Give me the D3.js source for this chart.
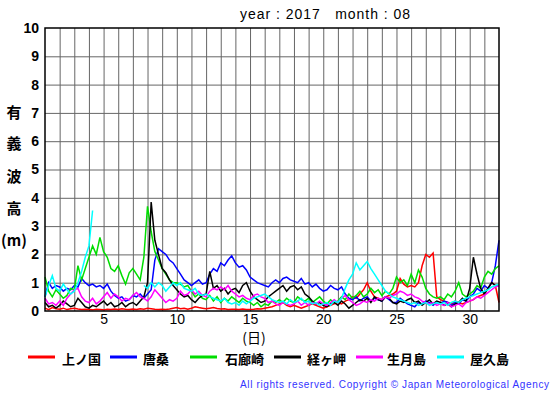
<!DOCTYPE html>
<html>
<head>
<meta charset="utf-8">
<script src="https://cdn.jsdelivr.net/npm/d3@7"></script>
<style>
  body { margin: 0; background: #fff; }
  text { font-family: "Liberation Sans", Arial, sans-serif; }
  .cjk { font-family: "Noto Sans CJK JP", sans-serif; }
</style>
</head>
<body>
<div id="chart"></div>
<script>
// 有義波高, 2017/08, sampled every 6 hours (day 1 00h .. day 32 00h)
const startDay = 1
const stepDays = 0.25

const stations = ['上ノ国', '唐桑', '石廊崎', '経ヶ岬', '生月島', '屋久島']
const stationColors = ['#ff0000', '#0000ff', '#00dd00', '#000000', '#ff00ff', '#00ffff']

const kaminokuni = [
  0.1,0.05,0.12,0.08, 0.06,0.1,0.05,0.08, 0.1,0.07,0.05,0.06, 0.05,0.04,0.06,0.05,
  0.04,0.06,0.05,0.07, 0.05,0.08,0.06,0.05, 0.07,0.05,0.08,0.06, 0.1,0.08,0.06,0.05,
  0.06,0.05,0.07,0.1, 0.12,0.08,0.1,0.06, 0.1,0.15,0.12,0.1, 0.08,0.1,0.12,0.09,
  0.07,0.08,0.05,0.06, 0.06,0.05,0.07,0.05, 0.05,0.06,0.08,0.07, 0.1,0.12,0.15,0.2,
  0.25,0.3,0.2,0.15, 0.2,0.15,0.1,0.15, 0.2,0.25,0.2,0.15, 0.1,0.15,0.2,0.25,
  0.3,0.25,0.35,0.4, 0.5,0.45,0.6,0.75, 1.0,0.7,0.5,0.45, 0.4,0.5,0.55,0.6,
  0.7,1.15,0.95,0.85, 0.9,0.85,1.0,1.6, 2.0,1.9,2.05,0.5, 0.4,0.35,0.3,0.25,
  0.35,0.3,0.25,0.3, 0.35,0.4,0.5,0.55, 0.6,0.8,1.0,0.9, 0.3
]
const karakuwa = [
  0.5,1.0,0.8,0.9, 0.85,0.7,0.8,0.75, 0.9,0.85,1.15,1.0, 0.9,0.95,0.85,0.9,
  0.8,0.95,0.7,0.55, 0.45,0.5,0.35,0.4, 0.55,0.5,0.6,0.45, 0.6,0.75,1.8,2.2,
  2.1,2.0,1.8,1.7, 1.5,1.3,1.1,1.0, 0.9,1.0,1.1,0.95, 1.0,1.3,1.5,1.4,
  1.7,1.6,1.8,1.95, 1.7,1.55,1.6,1.45, 1.2,1.1,1.0,0.95, 0.9,0.85,1.0,1.1,
  1.0,1.15,1.2,1.1, 1.05,1.0,1.15,0.95, 1.0,0.85,0.95,0.8, 0.7,0.75,0.9,0.8,
  0.75,0.85,0.6,0.45, 0.4,0.5,0.35,0.45, 0.5,0.35,0.45,0.4, 0.35,0.5,0.4,0.3,
  0.3,0.45,0.35,0.25, 0.2,0.15,0.3,0.25, 0.35,0.3,0.2,0.3, 0.25,0.35,0.3,0.2,
  0.3,0.25,0.4,0.35, 0.5,0.6,0.8,0.7, 0.9,0.8,1.0,1.6, 2.5
]
const irozaki = [
  1.2,0.7,0.5,0.75, 0.6,0.45,0.55,0.8, 0.75,1.6,1.1,1.5, 1.9,2.3,2.0,2.6,
  2.1,1.9,1.5,1.4, 1.6,1.25,0.95,1.35, 1.5,1.3,1.1,1.9, 3.7,2.8,2.1,1.8,
  1.5,1.3,1.1,1.0, 1.0,0.95,0.85,0.9, 0.7,0.5,0.6,0.45, 0.4,0.55,0.35,0.5,
  0.3,0.45,0.35,0.5, 0.4,0.3,0.45,0.35, 0.3,0.2,0.3,0.15, 0.25,0.2,0.35,0.3,
  0.4,0.3,0.45,0.35, 0.3,0.5,0.4,0.35, 0.45,0.3,0.4,0.5, 0.35,0.25,0.4,0.3,
  0.35,0.5,0.4,0.6, 0.45,0.55,0.7,0.5, 0.6,0.8,0.65,0.75, 0.55,0.7,0.6,0.8,
  1.2,1.0,1.1,0.9, 1.3,1.0,1.45,1.2, 0.8,0.6,0.5,0.45, 0.5,0.4,0.6,0.5,
  0.7,1.0,0.6,0.5, 0.6,0.7,0.9,0.8, 1.2,1.4,1.3,1.5, 1.6
]
const kyogamisaki = [
  0.3,0.15,0.2,0.1, 0.2,0.35,0.25,0.15, 0.2,0.45,0.3,0.15, 0.1,0.2,0.15,0.25,
  0.35,0.2,0.3,0.15, 0.2,0.3,0.15,0.25, 0.3,0.2,0.35,0.5, 1.0,3.85,2.5,2.0,
  1.5,1.35,1.1,0.9, 0.75,0.6,0.5,0.55, 0.4,0.3,0.45,0.55, 0.6,1.4,0.8,0.9,
  0.7,0.8,0.6,0.75, 0.8,0.65,0.9,1.0, 0.7,0.5,0.4,0.3, 0.35,0.5,0.6,0.7,
  0.8,0.9,0.7,0.85, 0.9,0.75,0.85,0.6, 0.5,0.35,0.25,0.3, 0.2,0.15,0.25,0.3,
  0.2,0.35,0.25,0.1, 0.2,0.3,0.4,0.35, 0.45,0.3,0.5,0.4, 0.35,0.5,0.45,0.3,
  0.25,0.35,0.3,0.4, 0.45,0.3,0.35,0.2, 0.3,0.4,0.25,0.35, 0.3,0.2,0.25,0.15,
  0.25,0.3,0.45,0.35, 0.8,1.9,1.3,0.8, 0.6,0.8,1.0,0.9, 0.9
]
const ikitsukishima = [
  0.45,0.25,0.3,0.2, 0.35,0.2,0.45,0.6, 0.75,0.8,0.5,0.35, 0.3,0.45,0.25,0.35,
  0.5,0.65,0.45,0.6, 0.5,0.35,0.45,0.4, 0.55,0.65,0.5,0.45, 0.35,0.5,0.75,0.6,
  0.45,0.3,0.4,0.35, 0.45,0.7,0.55,0.6, 0.75,0.6,0.7,0.55, 0.5,0.7,0.8,0.75,
  0.85,0.75,0.9,0.7, 0.6,0.5,0.55,0.45, 0.4,0.55,0.6,0.5, 0.45,0.3,0.35,0.25,
  0.2,0.3,0.25,0.2, 0.25,0.35,0.2,0.3, 0.2,0.3,0.25,0.35, 0.25,0.2,0.3,0.4,
  0.3,0.45,0.55,0.4, 0.3,0.2,0.25,0.35, 0.3,0.4,0.35,0.45, 0.4,0.5,0.45,0.55,
  0.6,0.7,0.65,0.55, 0.6,0.5,0.45,0.35, 0.3,0.25,0.3,0.2, 0.25,0.2,0.3,0.15,
  0.2,0.25,0.15,0.3, 0.35,0.4,0.5,0.45, 0.55,0.65,0.75,0.85, 0.9
]
const yakushima = [
  0.5,0.9,1.25,0.8, 0.7,0.95,0.75,0.6, 0.7,1.0,1.4,1.9, 2.3,3.55,null,null,
  null,null,null,null, null,null,null,null, null,null,null,0.9, 0.8,1.0,0.85,1.0,
  0.9,0.7,0.85,1.0, 0.9,1.0,0.8,0.75, 0.7,0.8,0.6,0.55, 0.6,0.5,0.45,0.4,
  0.35,0.45,0.3,0.25, 0.3,0.2,0.35,0.25, 0.35,0.45,0.5,0.55, 0.6,0.5,0.4,0.35,
  0.3,0.35,0.25,0.4, 0.3,0.35,0.45,0.3, 0.35,0.25,0.3,0.2, 0.25,0.3,0.2,0.35,
  0.3,0.45,0.8,1.1, 1.3,1.7,1.45,1.6, 1.75,1.5,1.3,1.1, 0.9,0.7,0.6,0.5,
  0.45,0.4,0.35,0.3, 0.25,0.3,0.2,0.25, 0.3,0.2,0.25,0.3, 0.25,0.3,0.2,0.3,
  0.35,0.3,0.4,0.45, 0.5,0.55,0.6,0.65, 0.7,0.75,0.85,0.9, 0.95
]
const seriesList = [kaminokuni, karakuwa, irozaki, kyogamisaki, ikitsukishima, yakushima]

const xTickLabels = [5, 10, 15, 20, 25, 30]
const yTickLabels = [0, 1, 2, 3, 4, 5, 6, 7, 8, 9, 10]
const yTitleChars = ['有', '義', '波', '高', '(m)']

let width = 555,
	height = 395,
	margin = { top: 28, bottom: 84, left: 45, right: 56 }

let svg = d3.select('#chart')
	.append('svg')
	.attr('width', width)
	.attr('height', height)
	.style('background', 'white')

let x = d3.scaleLinear().domain([1, 32]).range([margin.left, width - margin.right])
let y = d3.scaleLinear().domain([0, 10]).range([height - margin.bottom, margin.top])

// grid lines
svg.append('g')
	.attr('transform', 'translate(0,' + y(0) + ')')
	.call(d3.axisBottom(x).tickValues(d3.range(2, 32)).tickSize(-(y(0) - y(10))).tickFormat(''))
	.call(g => g.select('.domain').remove())
	.selectAll('line').attr('stroke', '#666').attr('stroke-width', 1)

svg.append('g')
	.attr('transform', 'translate(' + x(1) + ',0)')
	.call(d3.axisLeft(y).tickValues(d3.range(1, 10)).tickSize(-(x(32) - x(1))).tickFormat(''))
	.call(g => g.select('.domain').remove())
	.selectAll('line').attr('stroke', '#666').attr('stroke-width', 1)

// tick labels
svg.append('g')
	.attr('transform', 'translate(0,' + y(0) + ')')
	.call(d3.axisBottom(x).tickValues(xTickLabels).tickSize(0).tickPadding(3))
	.call(g => g.select('.domain').remove())
	.selectAll('text')
	.style('font-size', '14px')
	.attr('fill', 'black')

svg.append('g')
	.attr('transform', 'translate(' + (x(1) - 4) + ',0)')
	.call(d3.axisLeft(y).tickValues(yTickLabels).tickSize(0).tickPadding(2))
	.call(g => g.select('.domain').remove())
	.selectAll('text')
	.style('font-size', '14px')
	.style('font-weight', 'bold')
	.attr('fill', 'black')

// data lines
let line = d3.line()
	.defined(d => d != null)
	.x((d, i) => x(startDay + i * stepDays))
	.y(d => y(d))

let plot = svg.append('g')
seriesList.forEach(function (s, k) {
	plot.append('path')
		.datum(s)
		.attr('d', line)
		.attr('fill', 'none')
		.attr('stroke', stationColors[k])
		.attr('stroke-width', 1.5)
})

// border
svg.append('rect')
	.attr('x', x(1))
	.attr('y', y(10))
	.attr('width', x(32) - x(1))
	.attr('height', y(0) - y(10))
	.attr('fill', 'none')
	.attr('stroke', 'black')
	.attr('stroke-width', 1.5)

// title
svg.append('text')
	.attr('x', 240)
	.attr('y', 19)
	.attr('textLength', 170)
	.attr('lengthAdjust', 'spacing')
	.style('font-size', '14px')
	.attr('xml:space', 'preserve')
	.text('year : 2017   month : 08')

// y title, stacked characters
let yTitleY = [111, 142, 175, 207, 239]
svg.selectAll('ytitle')
	.data(yTitleChars)
	.enter()
	.append('text')
	.attr('class', 'cjk')
	.attr('x', 14)
	.attr('y', (d, i) => yTitleY[i])
	.attr('text-anchor', 'middle')
	.attr('dominant-baseline', 'central')
	.style('font-size', '15px')
	.style('font-weight', 'bold')
	.text(d => d)

// x title
svg.append('text')
	.attr('class', 'cjk')
	.attr('x', 254)
	.attr('y', 337)
	.attr('text-anchor', 'middle')
	.attr('dominant-baseline', 'central')
	.style('font-size', '14px')
	.text('(日)')

// legend
let legendLineX = [28, 110, 190, 274, 356, 437]
let legendTextX = [62, 143, 225, 307, 387, 470]
stations.forEach(function (name, k) {
	svg.append('line')
		.attr('x1', legendLineX[k])
		.attr('x2', legendLineX[k] + 27)
		.attr('y1', 357)
		.attr('y2', 357)
		.attr('stroke', stationColors[k])
		.attr('stroke-width', 3)
	svg.append('text')
		.attr('class', 'cjk')
		.attr('x', legendTextX[k])
		.attr('y', 358)
		.attr('dominant-baseline', 'central')
		.style('font-size', '13px')
		.style('font-weight', 'bold')
		.text(name)
})

// copyright
svg.append('text')
	.attr('x', 240)
	.attr('y', 388)
	.attr('textLength', 309)
	.attr('lengthAdjust', 'spacing')
	.style('font-size', '10px')
	.attr('fill', '#3333ff')
	.text('All rights reserved. Copyright © Japan Meteorological Agency')
</script>
</body>
</html>
